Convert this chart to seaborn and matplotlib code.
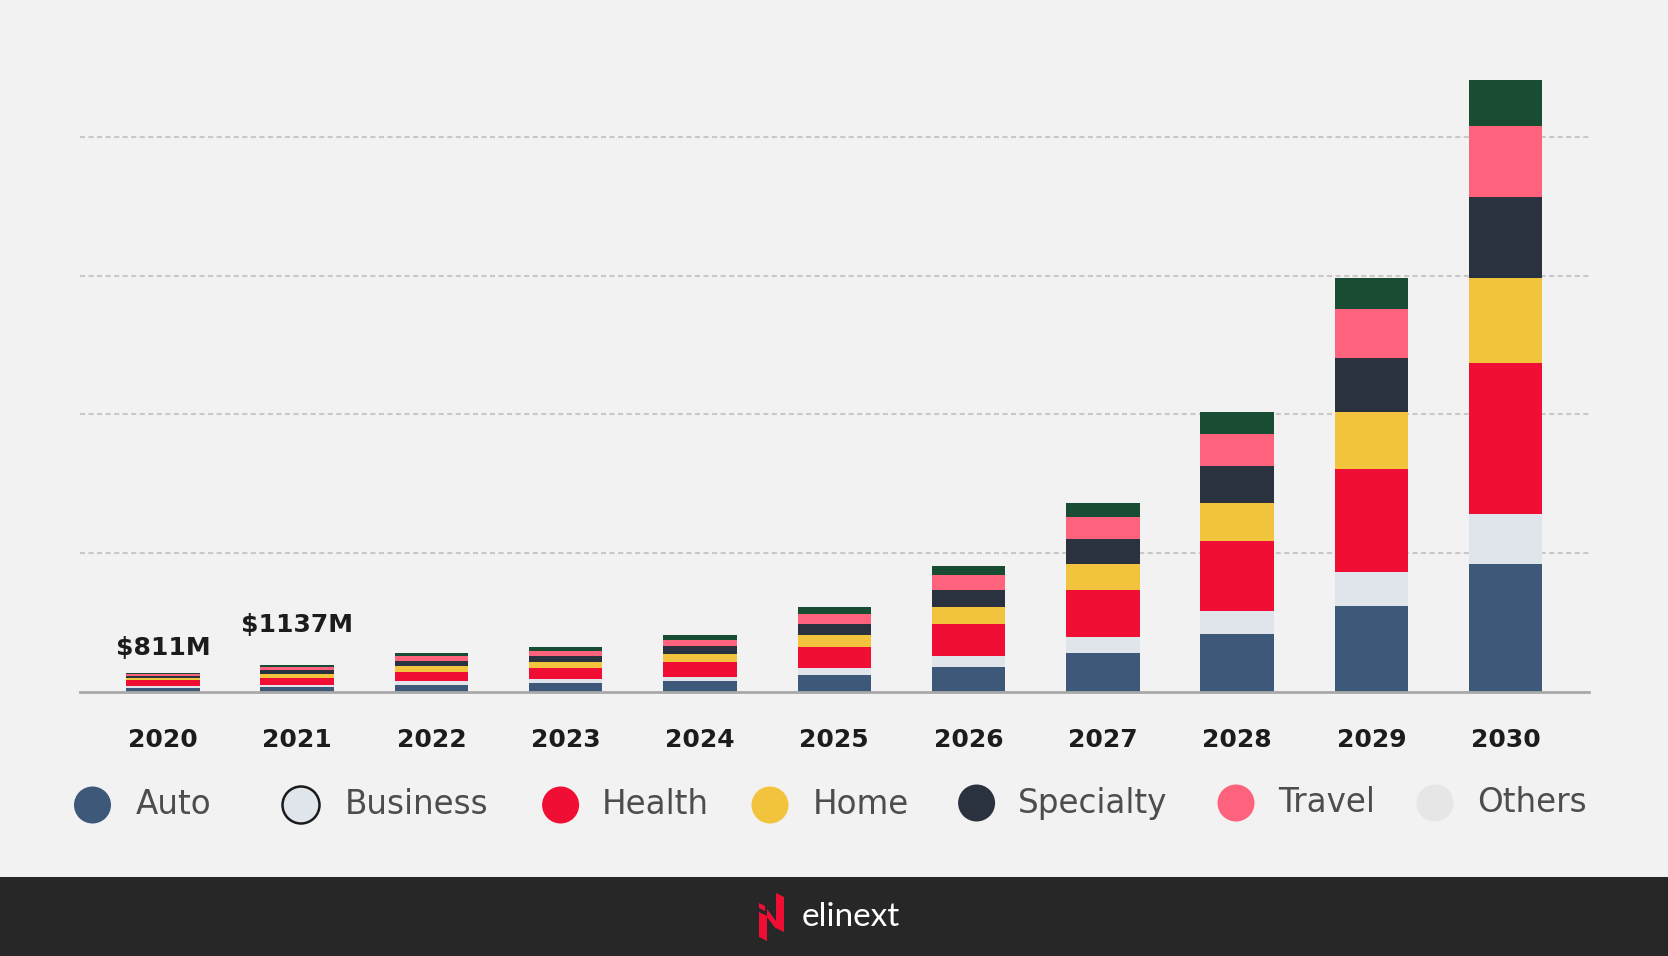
import matplotlib
matplotlib.use("Agg")
import matplotlib.pyplot as plt
from matplotlib.patches import Circle, Polygon, Rectangle
import seaborn as sns
import pandas as pd

# values in $M
years = ["2020", "2021", "2022", "2023", "2024", "2025", "2026", "2027", "2028", "2029", "2030"]
auto = [130, 199, 302, 360, 475, 706, 1080, 1674, 2502, 3714, 5508]
business = [97, 85, 144, 173, 173, 302, 461, 696, 996, 1476, 2172]
health = [259, 313, 418, 475, 648, 922, 1368, 2022, 3000, 4428, 6564]
home = [97, 171, 230, 274, 346, 518, 763, 1128, 1656, 2472, 3648]
specialty = [81, 156, 230, 259, 317, 475, 720, 1092, 1608, 2370, 3516]
travel = [97, 142, 202, 230, 288, 446, 662, 942, 1410, 2088, 3084]
others = [50, 71, 130, 144, 187, 274, 403, 630, 912, 1344, 1986]

segments = ["Auto", "Business", "Health", "Home", "Specialty", "Travel", "Others"]
total_labels = {"2020": "$811M", "2021": "$1137M"}

bar_colors = {"Auto": "#3d5878", "Business": "#e0e5ec", "Health": "#f00e34", "Home": "#f2c43d",
              "Specialty": "#2b323f", "Travel": "#ff627d", "Others": "#184d34"}
legend_colors = dict(bar_colors, Others="#e6e6e6")

df = pd.DataFrame({"year": years, "Auto": auto, "Business": business, "Health": health,
                   "Home": home, "Specialty": specialty, "Travel": travel, "Others": others})

sns.set_style("white")
plt.rcParams["font.family"] = ["DejaVu Sans"]

W, H = 1668, 956
fig = plt.figure(figsize=(W / 100, H / 100), dpi=100, facecolor="#f2f2f2")
ax = fig.add_axes([80 / W, (H - 691.5) / H, 1509 / W, 631.5 / H])
ax.set_facecolor("#f2f2f2")

# stacked bars: draw cumulative totals from the top layer down
for i in range(len(segments) - 1, -1, -1):
    cum = df[segments[:i + 1]].sum(axis=1)
    sns.barplot(x=df["year"], y=cum, color=bar_colors[segments[i]], width=0.547,
                saturation=1, errorbar=None, linewidth=0, ax=ax)

totals = df[segments].sum(axis=1)
offsets = {"2020": 13, "2021": 28}
for yr, lab in total_labels.items():
    i = years.index(yr)
    ax.annotate(lab, (i, totals[i]), xytext=(0, offsets[yr]), textcoords="offset pixels",
                ha="center", va="bottom", fontsize=18, fontweight="bold", color="#1c1c1c")

ax.set_xlim(-0.617, 10.62)
ax.set_ylim(0, 27350)
ax.set_yticks([6000, 12000, 18000, 24000])
ax.set_yticklabels([])
ax.yaxis.grid(True, linestyle=(0, (2.4, 1.7)), color="#c8c8c8", linewidth=1.5)
ax.set_axisbelow(True)
ax.set_xlabel("")
ax.set_ylabel("")
for s in ["top", "right", "left"]:
    ax.spines[s].set_visible(False)
ax.spines["bottom"].set_color("#a9a9a9")
ax.spines["bottom"].set_linewidth(2)
ax.tick_params(axis="x", length=0, pad=26, labelsize=18, labelcolor="#1c1c1c")
ax.tick_params(axis="y", length=0)
for t in ax.get_xticklabels():
    t.set_fontweight("bold")

# overlay in pixel coordinates for legend and footer
ov = fig.add_axes([0, 0, 1, 1], facecolor="none")
ov.set_xlim(0, W)
ov.set_ylim(H, 0)
ov.axis("off")

leg_pos = [(92.5, 136, 805), (301, 345, 805), (560.6, 602, 805), (770, 813, 805),
           (976.6, 1018, 803), (1236, 1278, 803), (1435, 1477, 803)]
for name, (cx, tx, cy) in zip(segments, leg_pos):
    edge = "#1a1a1a" if name == "Business" else "none"
    ov.add_patch(Circle((cx, cy), 18.5, facecolor=legend_colors[name], edgecolor=edge, linewidth=1.8))
    ov.text(tx, cy, name, ha="left", va="center", fontsize=23.5, color="#4d4d4d")

ov.add_patch(Rectangle((0, 876.5), W, H - 876.5, facecolor="#272727", edgecolor="none"))
red = "#f00e34"
ov.add_patch(Polygon([(759, 903), (765, 906), (765, 911), (759, 908)], facecolor=red, edgecolor="none"))
ov.add_patch(Polygon([(759, 912), (767, 916), (767, 941), (759, 937)], facecolor=red, edgecolor="none"))
ov.add_patch(Polygon([(767, 909), (767, 917), (776, 929), (776, 921)], facecolor=red, edgecolor="none"))
ov.add_patch(Polygon([(776, 893), (784, 897), (784, 932), (776, 928)], facecolor=red, edgecolor="none"))
ov.text(802, 917, "elinext", ha="left", va="center", fontsize=24, color="white", family="Lato")

fig.savefig("out.png", dpi=100, facecolor=fig.get_facecolor())
